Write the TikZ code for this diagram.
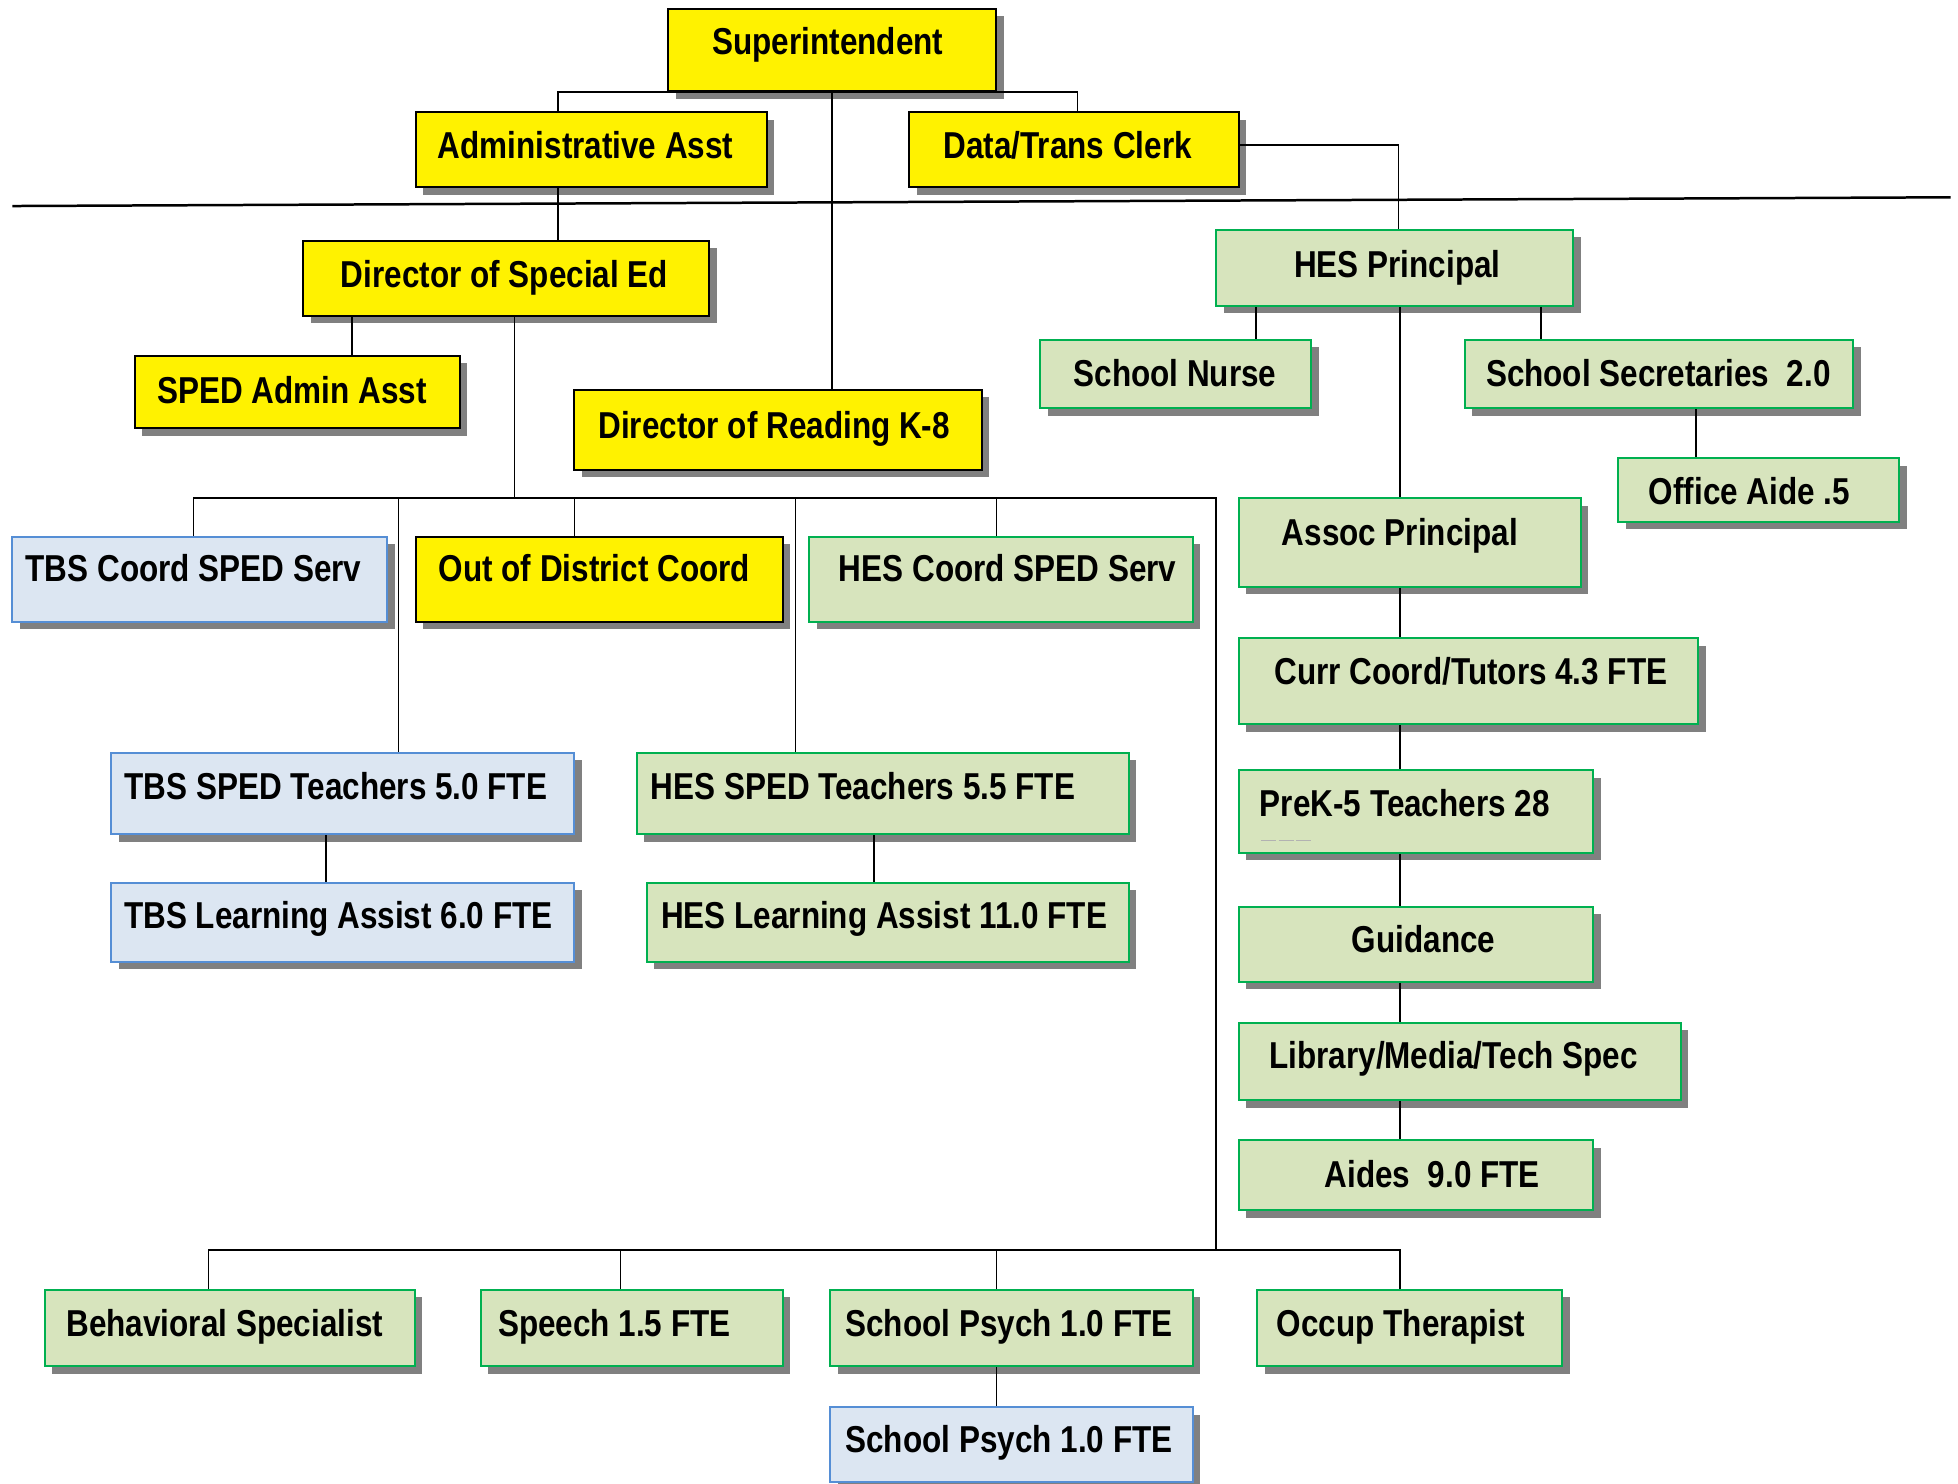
\documentclass[tikz,border=0pt]{standalone}
\usepackage{fontspec}
\setmainfont{Liberation Sans}[FakeStretch=0.84]
\usetikzlibrary{shadows,calc}
\definecolor{gfill}{HTML}{D7E4BD}
\definecolor{gline}{HTML}{00B050}
\definecolor{bfill}{HTML}{DCE6F2}
\definecolor{bline}{HTML}{558ED5}
\definecolor{shadowgray}{HTML}{808080}
\tikzset{
  orgbox/.style={draw, line width=0.8pt, inner sep=0pt,
    drop shadow={shadow xshift=3pt, shadow yshift=-3pt, fill=shadowgray, opacity=1}},
  ybox/.style={orgbox, fill=yellow, draw=black},
  gbox/.style={orgbox, fill=gfill, draw=gline},
  bbox/.style={orgbox, fill=bfill, draw=bline},
  lbl/.style={font=\bfseries\fontsize{15}{16}\selectfont, text height=10.9pt, text depth=0pt, inner sep=0pt, anchor=center},
  conn/.style={line width=0.65pt, draw=black}
}
\newcommand\orgnode[9]{%
  \node[#2, minimum width={(#5-#3)*0.5pt}, minimum height={(#6-#4)*0.5pt}] (#1) at ({(#3+#5)/2},{(#4+#6)/2}) {};
  \node[lbl] (#1-t) at (#7,#8) {#9};}
\begin{document}
\begin{tikzpicture}[x=0.5pt,y=-0.5pt]
\useasboundingbox (0,0) rectangle (1568,1188);
% boxes
\orgnode{sup}{ybox}{535}{7}{798}{73}{663}{33}{Superintendent}
\orgnode{adm}{ybox}{333}{90}{614}{150}{469}{116}{Administrative Asst}
\orgnode{dtc}{ybox}{728}{90}{992}{150}{855}{116}{Data/Trans Clerk}
\orgnode{dse}{ybox}{243}{193}{568}{253}{404}{219}{Director of Special Ed}
\orgnode{spa}{ybox}{108}{285}{368}{343}{234}{312}{SPED Admin Asst}
\orgnode{rdg}{ybox}{460}{312}{786}{376}{620}{340}{Director of Reading K-8}
\orgnode{hes}{gbox}{974}{184}{1260}{245}{1119}{211}{HES Principal}
\orgnode{nur}{gbox}{833}{272}{1050}{327}{941}{299}{School Nurse}
\orgnode{sec}{gbox}{1173}{272}{1484}{327}{1328}{299}{School Secretaries\ \ 2.0}
\orgnode{oa}{gbox}{1296}{367}{1521}{418}{1401}{393}{Office Aide .5}
\orgnode{asc}{gbox}{992}{399}{1266}{470}{1121}{426}{Assoc Principal}
\orgnode{cur}{gbox}{992}{511}{1360}{580}{1178}{537}{Curr Coord/Tutors 4.3 FTE}
\orgnode{pk}{gbox}{992}{617}{1276}{683}{1125}{643}{PreK-5 Teachers 28}
\orgnode{gui}{gbox}{992}{726}{1276}{786}{1140}{752}{Guidance}
\orgnode{lib}{gbox}{992}{819}{1346}{881}{1164}{845}{Library/Media/Tech Spec}
\orgnode{aid}{gbox}{992}{913}{1276}{969}{1147}{940}{Aides\ \ 9.0 FTE}
\orgnode{tbc}{bbox}{10}{430}{310}{498}{155}{455}{TBS Coord SPED Serv}
\orgnode{odc}{ybox}{333}{430}{627}{498}{476}{455}{Out of District Coord}
\orgnode{hcs}{gbox}{648}{430}{955}{498}{807}{455}{HES Coord SPED Serv}
\orgnode{tbt}{bbox}{89}{603}{460}{668}{269}{629}{TBS SPED Teachers 5.0 FTE}
\orgnode{tbl}{bbox}{89}{707}{460}{770}{271}{733}{TBS Learning Assist 6.0 FTE}
\orgnode{hst}{gbox}{510}{603}{904}{668}{691}{629}{HES SPED Teachers 5.5 FTE}
\orgnode{hsl}{gbox}{518}{707}{904}{770}{708}{733}{HES Learning Assist 11.0 FTE}
\orgnode{beh}{gbox}{36}{1033}{332}{1094}{180}{1059}{Behavioral Specialist}
\orgnode{spe}{gbox}{385}{1033}{627}{1094}{492}{1059}{Speech 1.5 FTE}
\orgnode{sp1}{gbox}{665}{1033}{955}{1094}{808}{1059}{School Psych 1.0 FTE}
\orgnode{occ}{gbox}{1007}{1033}{1251}{1094}{1122}{1059}{Occup Therapist}
\orgnode{sp2}{bbox}{665}{1127}{955}{1187}{808}{1152}{School Psych 1.0 FTE}
% faint dashes in PreK-5 box
\draw[gray!60, line width=0.4pt, dash pattern=on 6pt off 1pt] (1010,673) -- (1050,673);
% column coordinates
\foreach \c in {447,863,1120,282,412,155,319,460,637,798,974,167,497,1121,261,700,1006,1234,1358}
  {\coordinate (c\c) at (\c,0);}
\coordinate (busA) at (0,399);
\coordinate (busB) at (0,1001);
% dividing line
\coordinate (hl1) at (10,165);
\coordinate (hl2) at (1562,158);
\draw[line width=1pt] (hl1) -- (hl2);
% connectors
\draw[conn] (c447 |- adm.north) |- (sup.south) -| (c863 |- dtc.north);
\draw[conn] (sup.south) -- (sup.south |- rdg.north);
\draw[conn] (c447 |- adm.south) -- (c447 |- dse.north);
\draw[conn] (dtc.east |- dtc-t) -| (c1120 |- hes.north);
\draw[conn] (c282 |- dse.south) -- (c282 |- spa.north);
\draw[conn] (c412 |- dse.south) -- (c412 |- busA);
\draw[conn] (c155 |- tbc.north) |- (c974 |- busA) -- (c974 |- busB);
\draw[conn] (c319 |- busA) -- (c319 |- tbt.north);
\draw[conn] (c460 |- busA) -- (c460 |- odc.north);
\draw[conn] (c637 |- busA) -- (c637 |- hst.north);
\draw[conn] (c798 |- busA) -- (c798 |- hcs.north);
\draw[conn] (c167 |- beh.north) |- (c1121 |- busB) -- (c1121 |- occ.north);
\draw[conn] (c497 |- busB) -- (c497 |- spe.north);
\draw[conn] (c798 |- busB) -- (c798 |- sp1.north);
\draw[conn] (c261 |- tbt.south) -- (c261 |- tbl.north);
\draw[conn] (c700 |- hst.south) -- (c700 |- hsl.north);
\draw[conn] (c798 |- sp1.south) -- (c798 |- sp2.north);
\draw[conn] (c1006 |- hes.south) -- (c1006 |- nur.north);
\draw[conn] (c1234 |- hes.south) -- (c1234 |- sec.north);
\draw[conn] (c1121 |- hes.south) -- (c1121 |- asc.north);
\draw[conn] (c1358 |- sec.south) -- (c1358 |- oa.north);
\draw[conn] (c1121 |- asc.south) -- (c1121 |- cur.north);
\draw[conn] (c1121 |- cur.south) -- (c1121 |- pk.north);
\draw[conn] (c1121 |- pk.south) -- (c1121 |- gui.north);
\draw[conn] (c1121 |- gui.south) -- (c1121 |- lib.north);
\draw[conn] (c1121 |- lib.south) -- (c1121 |- aid.north);
\end{tikzpicture}
\end{document}
